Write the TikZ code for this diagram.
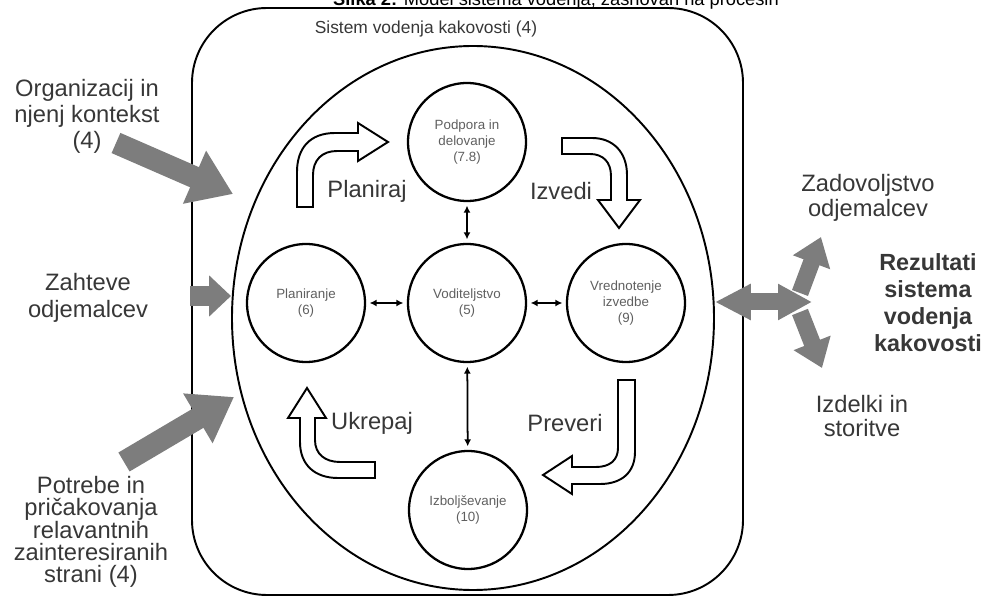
\documentclass[tikz,border=0pt]{standalone}
\usepackage{fontspec}
\setmainfont{Liberation Sans}
\usetikzlibrary{arrows.meta}
\definecolor{arrowgray}{RGB}{125,125,125}
\definecolor{txtgray}{RGB}{55,55,55}
\definecolor{circtxt}{RGB}{95,95,95}
\tikzset{
  lbl/.style={align=center, text=txtgray, inner sep=0pt, font=\fontsize{13.5}{14.8}\selectfont},
  proc/.style={circle, draw, line width=1.3pt, minimum size=2.36cm, inner sep=0pt,
    align=center, text=circtxt, font=\fontsize{7.6}{9}\selectfont},
  dbl/.style={>={Latex[length=4pt,width=4pt]}, <->, line width=1pt, shorten <=2pt, shorten >=2pt},
  hollow/.style={draw, fill=white, line width=1.1pt},
  bigarrow/.style={draw=arrowgray, line width=#1}
}
\begin{document}
\begin{tikzpicture}[x=0.02cm, y=-0.02cm]
	\useasboundingbox (0,0) rectangle (985,601);
	\clip (0,0) rectangle (985,601);

	\node[anchor=base, font=\fontsize{10.4}{12}\selectfont] (title) at (556,6)
		{\textbf{Slika 2:} Model sistema vodenja, zasnovan na procesih};

	% system frame and cycle
	\draw[line width=1.1pt, rounded corners=1.5cm] (192,8) rectangle (743,595);
	\node[text=txtgray, font=\fontsize{9.9}{12}\selectfont] (qms) at (426,29) {Sistem vodenja kakovosti (4)};
	\draw[line width=1.1pt] (473,318) ellipse [x radius=241, y radius=272];

	\node[proc] (podp) at (467,142) {Podpora in\\delovanje\\(7.8)};
	\node[proc] (plan) at (306,303) {Planiranje\\(6)};
	\node[proc] (vod) at (467,303) {Voditeljstvo\\(5)};
	\node[proc] (vred) at (626,303) {Vrednotenje\\izvedbe\\(9)};
	\node[proc] (izb) at (468,510) {Izboljševanje\\(10)};

	\draw[dbl] (plan) -- (vod);
	\draw[dbl] (vod) -- (vred);
	\draw[dbl] (podp) -- (vod);
	\draw[dbl] (vod) -- (izb);

	% hollow PDCA arrows
	\draw[hollow] (297,207) -- (297,172) .. controls (297,148) and (310,133) .. (335,133)
		-- (358,133) -- (358,123) -- (388,142) -- (358,161) -- (358,151) -- (337,151)
		.. controls (322,151) and (313,160) .. (313,175) -- (313,207) -- cycle;
	\draw[hollow] (562,138) -- (592,138) .. controls (613,138) and (627,152) .. (627,175)
		-- (627,200) -- (640,200) -- (619,228) -- (598,200) -- (611,200) -- (611,176)
		.. controls (611,162) and (603,154) .. (590,154) -- (562,154) -- cycle;
	\draw[hollow] (618,380) -- (635,380) -- (635,452) .. controls (635,472) and (622,484) .. (600,484)
		-- (572,484) -- (572,494) -- (543,475) -- (572,456) -- (572,467) -- (596,467)
		.. controls (610,467) and (618,460) .. (618,448) -- cycle;
	\draw[hollow] (375,462) -- (375,478) -- (338,478) .. controls (315,478) and (300,465) .. (300,442)
		-- (300,418) -- (288,418) -- (307,388) -- (326,418) -- (315,418) -- (315,440)
		.. controls (315,454) and (325,462) .. (340,462) -- cycle;

	\node[lbl] (planiraj) at (367,191) {Planiraj};
	\node[lbl] (izvedi) at (561,191) {Izvedi};
	\node[lbl] (preveri) at (565,423) {Preveri};
	\node[lbl] (ukrepaj) at (372,423) {Ukrepaj};

	% inputs
	\node[lbl] (org) at (87,116) {Organizacij in\\njenj kontekst\\(4)};
	\node[lbl, font=\fontsize{13.5}{15.4}\selectfont] (zaht) at (88,298) {Zahteve\\odjemalcev};
	\node[lbl, font=\fontsize{13.5}{12.7}\selectfont] (potr) at (91,532)
		{Potrebe in\\pričakovanja\\relavantnih\\zainteresiranih\\strani (4)};

	\coordinate (orgTail) at (116,143);
	\coordinate (orgTip) at (233,194);
	\coordinate (zahtTail) at (190,296);
	\coordinate (zahtTip) at (231,296);
	\coordinate (potrTail) at (124,462);
	\coordinate (potrTip) at (234,397);
	\draw[bigarrow=0.44cm, -{Triangle[length=0.84cm,width=1.1cm]}] (orgTail) -- (orgTip);
	\draw[bigarrow=0.4cm, -{Triangle[length=0.44cm,width=0.8cm]}] (zahtTail) -- (zahtTip);
	\draw[bigarrow=0.44cm, -{Triangle[length=0.84cm,width=1.1cm]}] (potrTail) -- (potrTip);

	% results
	\node[lbl, font=\fontsize{13.5}{14.2}\selectfont] (zad) at (868,198) {Zadovoljstvo\\odjemalcev};
	\node[lbl, font=\fontsize{13.5}{13.7}\selectfont] (izd) at (862,416) {Izdelki in\\storitve};
	\node[lbl, font=\bfseries\fontsize{13.3}{15.4}\selectfont] (rez) at (928,303)
		{Rezultati\\sistema\\vodenja\\kakovosti};

	\coordinate (resL) at (715,302);
	\coordinate (resR) at (812,302);
	\coordinate (upTail) at (800,293);
	\coordinate (upTip) at (821,237);
	\coordinate (dnTail) at (800,312);
	\coordinate (dnTip) at (822,368);
	\draw[bigarrow=0.34cm, {Triangle[length=0.72cm,width=0.68cm]}-{Triangle[length=0.68cm,width=0.68cm]}] (resL) -- (resR);
	\draw[bigarrow=0.34cm, -{Triangle[length=0.54cm,width=0.76cm]}] (upTail) -- (upTip);
	\draw[bigarrow=0.34cm, -{Triangle[length=0.54cm,width=0.76cm]}] (dnTail) -- (dnTip);
\end{tikzpicture}
\end{document}
